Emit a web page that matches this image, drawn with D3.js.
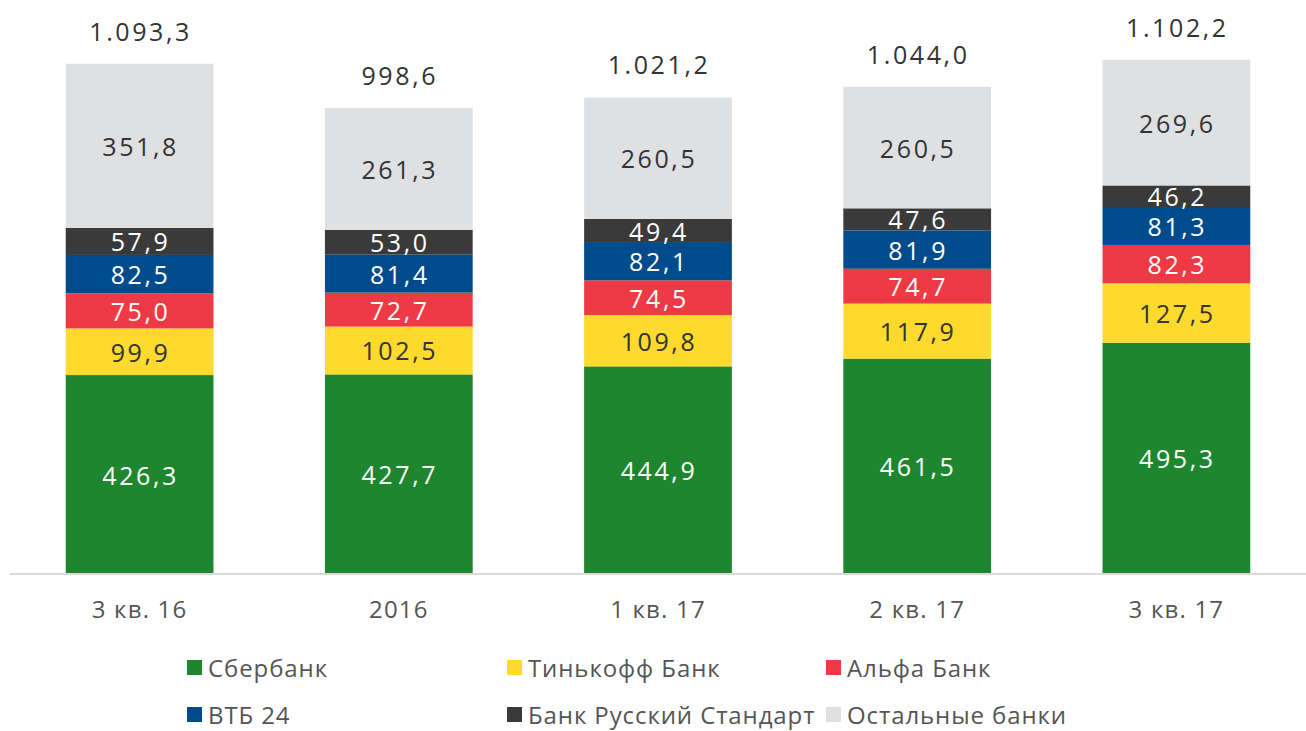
<!DOCTYPE html>
<html><head><meta charset="utf-8">
<script src="https://cdn.jsdelivr.net/npm/d3@7"></script>
<style>body{margin:0;background:#fff}svg{display:block}</style>
</head><body><svg id="c" width="1306" height="731"></svg>
<script>
const categories = ["3 кв. 16", "2016", "1 кв. 17", "2 кв. 17", "3 кв. 17"];
const seriesNames = ["Сбербанк", "Тинькофф Банк", "Альфа Банк", "ВТБ 24", "Банк Русский Стандарт", "Остальные банки"];
const sberbank = [426.3, 427.7, 444.9, 461.5, 495.3];
const tinkoff = [99.9, 102.5, 109.8, 117.9, 127.5];
const alfa = [75.0, 72.7, 74.5, 74.7, 82.3];
const vtb24 = [82.5, 81.4, 82.1, 81.9, 81.3];
const russtandard = [57.9, 53.0, 49.4, 47.6, 46.2];
const others = [351.8, 261.3, 260.5, 260.5, 269.6];
const totals = [1093.3, 998.6, 1021.2, 1044.0, 1102.2];
const colors = ["#1e862e", "#fed92e", "#ee3a45", "#004b8c", "#3a3a3a", "#dfe0e2"];
const labelColors = ["#fff", "#333", "#fff", "#fff", "#fff", "#333"];

const seriesData = [sberbank, tinkoff, alfa, vtb24, russtandard, others];
const table = categories.map((c, i) => {
  const r = {cat: c};
  seriesNames.forEach((s, j) => r[s] = seriesData[j][i]);
  return r;
});
const stack = d3.stack().keys(seriesNames)(table);

const fmt = v => {
  const s = v.toFixed(1).replace(".", ",");
  const [ip, dp] = s.split(",");
  return ip.replace(/\B(?=(\d{3})+(?!\d))/g, ".") + "," + dp;
};

const svg = d3.select("#c");
const font = "'Open Sans', sans-serif";
const x = d3.scaleBand().domain(categories).range([10, 1306]).paddingInner(0.43).paddingOuter(0.215);
const y = d3.scaleLinear().domain([0, 1230]).range([574, 0]);

const g = svg.append("g");
stack.forEach((layer, j) => {
  g.selectAll(null).data(layer).enter().append("rect")
    .attr("x", d => x(d.data.cat)).attr("width", x.bandwidth())
    .attr("y", d => y(d[1])).attr("height", d => y(d[0]) - y(d[1]))
    .attr("fill", colors[j]);
});
stack.forEach((layer, j) => {
  g.selectAll(null).data(layer).enter().append("text")
    .attr("x", d => x(d.data.cat) + x.bandwidth() / 2 + 1)
    .attr("y", d => (y(d[0]) + y(d[1])) / 2 + 1)
    .attr("dy", "0.36em").attr("text-anchor", "middle")
    .attr("font-family", font).attr("font-size", 25).attr("letter-spacing", 2.6)
    .attr("fill", labelColors[j])
    .text(d => fmt(d[1] - d[0]));
});
g.selectAll(null).data(categories).enter().append("text")
  .attr("x", c => x(c) + x.bandwidth() / 2 + 1)
  .attr("y", (c, i) => y(d3.sum(seriesData, s => s[i])) - 32)
  .attr("dy", "0.36em").attr("text-anchor", "middle")
  .attr("font-family", font).attr("font-size", 25).attr("letter-spacing", 2.6)
  .attr("fill", "#333")
  .text((c, i) => fmt(totals[i]));

// axis
const ax = svg.append("g").attr("transform", "translate(0,574)")
  .call(d3.axisBottom(x).tickSize(0).tickPadding(27));
ax.select(".domain").attr("stroke", "#d9d9d9").attr("stroke-width", 2).attr("d", "M10,0H1306");
ax.selectAll("text").attr("font-family", font).attr("font-size", 24).attr("fill", "#555").attr("letter-spacing", 1.2);

// legend
const legX = [187, 507, 826];
const legY = [660, 707];
const leg = svg.append("g");
seriesNames.forEach((s, j) => {
  const col = j % 3, row = Math.floor(j / 3);
  leg.append("rect").attr("x", legX[col]).attr("y", legY[row]).attr("width", 15).attr("height", 15).attr("fill", colors[j]);
  leg.append("text").attr("x", legX[col] + 21).attr("y", legY[row] + 8).attr("dy", "0.36em")
    .attr("font-family", font).attr("font-size", 24).attr("letter-spacing", 0.9).attr("fill", "#555").text(s);
});
</script></body></html>
